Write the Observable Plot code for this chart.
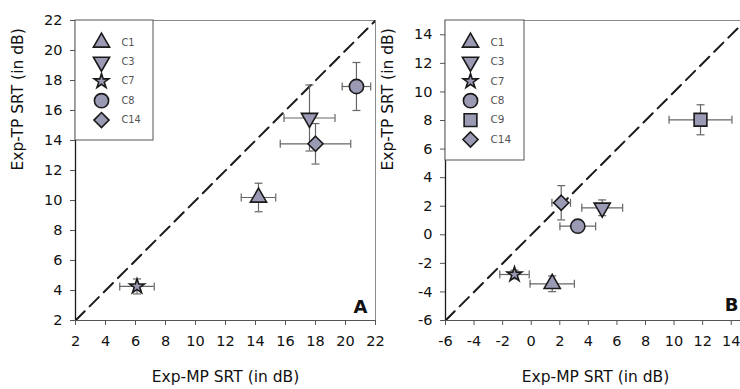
<!DOCTYPE html>
<html>
<head>
<meta charset="utf-8">
<script src="https://cdn.jsdelivr.net/npm/d3@7"></script>
<script src="https://cdn.jsdelivr.net/npm/@observablehq/plot@0.6"></script>
<style>
  html, body { margin: 0; padding: 0; background: #fff; overflow: hidden; }
  #wrap { position: relative; width: 740px; height: 389px; overflow: hidden; }
  #wrap svg { position: absolute; top: 0; max-width: none !important; }
</style>
</head>
<body>
<div id="wrap"></div>
<script>
// ---------- Data: panel A ----------
const catsA = ["C1", "C3", "C7", "C8", "C14"];
const xA = [14.2, 17.6, 6.1, 20.73, 18.0];
const yA = [10.2, 15.5, 4.27, 17.6, 13.78];
const xErrA = [1.15, 1.7, 1.15, 0.95, 2.35];
const yErrA = [0.95, 2.2, 0.5, 1.6, 1.35];
const domainA = [2, 22];
const ticksA = [2, 4, 6, 8, 10, 12, 14, 16, 18, 20, 22];

// ---------- Data: panel B ----------
const catsB = ["C1", "C3", "C7", "C8", "C9", "C14"];
const xB = [1.47, 4.97, -1.17, 3.26, 11.85, 2.1];
const yB = [-3.43, 1.89, -2.78, 0.6, 8.05, 2.24];
const xErrB = [1.55, 1.43, 1.03, 1.25, 2.2, 0.65];
const yErrB = [0.55, 0.55, 0.3, 0.3, 1.05, 1.2];
const domainB = [-6, 15];
const ticksB = [-6, -4, -2, 0, 2, 4, 6, 8, 10, 12, 14];

const xLabel = "Exp-MP SRT (in dB)";
const yLabel = "Exp-TP SRT (in dB)";

// ---------- Styles ----------
const sqrt3 = Math.sqrt(3);
const triangleDown = {
  draw(ctx, size) {
    const y = Math.sqrt(size / (sqrt3 * 3));
    ctx.moveTo(0, y * 2);
    ctx.lineTo(-sqrt3 * y, -y);
    ctx.lineTo(sqrt3 * y, -y);
    ctx.closePath();
  }
};
const hCap = { draw(ctx) { ctx.moveTo(-4, 0); ctx.lineTo(4, 0); } };
const vCap = { draw(ctx) { ctx.moveTo(0, -4); ctx.lineTo(0, 4); } };

const symbolOf = { C1: "triangle", C3: triangleDown, C7: "star", C8: "circle", C9: "square", C14: "diamond2" };
const radiusOf = { C1: 6.0, C3: 6.0, C7: 4.6, C8: 7.1, C9: 7.2, C14: 6.8 };
const FILL = "#9a9ab4";
const DARK = "#1a1a1a";
const BAR = "#666";
const FONT = "'DejaVu Sans', sans-serif";

function rows(cats, xs, ys, xe, ye) {
  return cats.map((c, i) => ({ cat: c, x: xs[i], y: ys[i], xlo: xs[i] - xe[i], xhi: xs[i] + xe[i], ylo: ys[i] - ye[i], yhi: ys[i] + ye[i] }));
}

function legendBox(w, h) {
  return (index, scales, values, dims) => {
    const r = document.createElementNS("http://www.w3.org/2000/svg", "rect");
    r.setAttribute("x", dims.marginLeft);
    r.setAttribute("y", dims.marginTop);
    r.setAttribute("width", w);
    r.setAttribute("height", h);
    r.setAttribute("fill", "white");
    r.setAttribute("stroke", "#555");
    r.setAttribute("stroke-width", 1);
    return r;
  };
}

function panel({ cats, data, domain, ticks, width, marginRight, letter, letterDx, letterDy, box, legendFont, legendDx, legendTextDx }) {
  const marks = [
    Plot.frame({ stroke: "#8a8a8a", strokeWidth: 1 }),
    Plot.line(domain, { x: d => d, y: d => d, stroke: DARK, strokeWidth: 2, strokeDasharray: "13,7", clip: true }),
    Plot.axisX({ ticks, tickSize: 5, tickPadding: 10, stroke: "#555", fontSize: 14.5, label: null, tickFormat: d => String(d) }),
    Plot.axisY({ ticks, tickSize: 5, tickPadding: 8, stroke: "#555", fontSize: 14.5, label: null, tickFormat: d => String(d) }),
    Plot.ruleX([domain[0]], { stroke: DARK, strokeWidth: 1.3 }),
    Plot.ruleY([domain[0]], { stroke: "#555", strokeWidth: 1 }),
    Plot.text([xLabel], { text: d => d, frameAnchor: "bottom", dy: 57, fontSize: 15.5, lineAnchor: "middle" }),
    Plot.text([yLabel], { text: d => d, frameAnchor: "left", dx: -57, rotate: -90, fontSize: 15.5, lineAnchor: "middle" }),
    // error bars
    Plot.ruleX(data, { x: "x", y1: "ylo", y2: "yhi", stroke: BAR, strokeWidth: 1.2 }),
    Plot.ruleY(data, { y: "y", x1: "xlo", x2: "xhi", stroke: BAR, strokeWidth: 1.2 }),
    Plot.dot(data, { x: "x", y: "ylo", symbol: hCap, stroke: BAR, strokeWidth: 1.2 }),
    Plot.dot(data, { x: "x", y: "yhi", symbol: hCap, stroke: BAR, strokeWidth: 1.2 }),
    Plot.dot(data, { x: "xlo", y: "y", symbol: vCap, stroke: BAR, strokeWidth: 1.2 }),
    Plot.dot(data, { x: "xhi", y: "y", symbol: vCap, stroke: BAR, strokeWidth: 1.2 }),
    // points
    ...cats.map(c => Plot.dot(data.filter(d => d.cat === c), {
      x: "x", y: "y", symbol: symbolOf[c], r: radiusOf[c], fill: FILL, stroke: DARK, strokeWidth: 1.6
    })),
    // legend
    legendBox(box[0], box[1]),
    ...cats.map((c, i) => Plot.dot([c], {
      frameAnchor: "top-left", dx: legendDx, dy: 22 + i * 19.4,
      symbol: symbolOf[c], r: radiusOf[c], fill: FILL, stroke: DARK, strokeWidth: 1.6
    })),
    ...cats.map((c, i) => Plot.text([c], {
      text: d => d, frameAnchor: "top-left", dx: legendTextDx, dy: 22 + i * 19.4,
      textAnchor: "start", lineAnchor: "middle", fontSize: legendFont, fill: "#555"
    })),
    Plot.text([letter], { text: d => d, frameAnchor: "bottom-right", dx: letterDx, dy: letterDy, textAnchor: "end", lineAnchor: "bottom", fontSize: 18, fontWeight: "bold" })
  ];
  return Plot.plot({
    width, height: 389,
    marginLeft: 75, marginRight, marginTop: 20, marginBottom: 69,
    x: { domain, label: null },
    y: { domain, label: null },
    style: { fontFamily: FONT, fontSize: "14.5px", background: "transparent", color: "#111", overflow: "visible" },
    marks
  });
}

const svgA = panel({
  cats: catsA, data: rows(catsA, xA, yA, xErrA, yErrA), domain: domainA, ticks: ticksA,
  width: 380, marginRight: 5, letter: "A", letterDx: -8, letterDy: -8,
  box: [78, 120], legendFont: 9.8, legendDx: 26, legendTextDx: 46
});
const svgB = panel({
  cats: catsB, data: rows(catsB, xB, yB, xErrB, yErrB), domain: domainB, ticks: ticksB,
  width: 375, marginRight: 0, letter: "B", letterDx: -7, letterDy: -10,
  box: [79, 140], legendFont: 10.5, legendDx: 25, legendTextDx: 45
});
svgA.style.left = "0px";
svgB.style.left = "370px";
const wrap = document.getElementById("wrap");
wrap.appendChild(svgA);
wrap.appendChild(svgB);
</script>
</body>
</html>
